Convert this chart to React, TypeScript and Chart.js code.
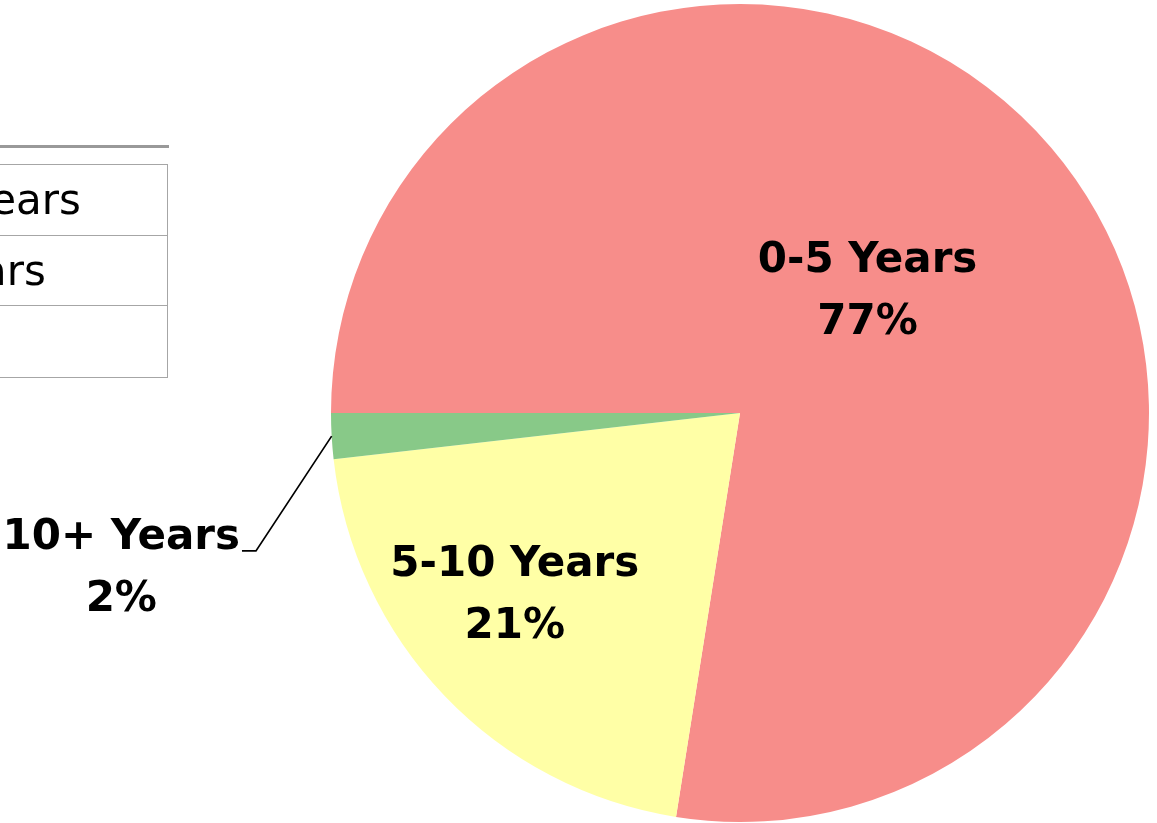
import React, { useEffect, useRef } from "react";
import { Chart, registerables } from "chart.js";

Chart.register(...registerables);

const categories = ["0-5 Years", "5-10 Years", "10+ Years"];
const shares = [77.5, 20.7, 1.8];
const percentLabels = ["77%", "21%", "2%"];
const sliceColors = ["#F78D8A", "#FFFFA6", "#88C988"];
const legendRows = ["0-5 Years", "5-10 Years", "10+ Years"];

// label placement relative to each arc (fraction of radius, angle shift in degrees)
const labelPlacement = [
  { frac: 0.43, shift: -3 },
  { frac: 0.71, shift: 4.6 },
  { frac: 1.56, shift: -10.9 },
];
const LABEL_FONT = "bold 42px 'DejaVu Sans'";

const labelPlugin = {
  id: "sliceLabels",
  afterDatasetsDraw(chart: any) {
    const ctx = chart.ctx;
    const meta = chart.getDatasetMeta(0);
    ctx.save();
    ctx.font = LABEL_FONT;
    ctx.fillStyle = "#000";
    ctx.textAlign = "center";
    ctx.textBaseline = "middle";
    meta.data.forEach((arc: any, i: number) => {
      const { x, y, startAngle, endAngle, outerRadius } = arc.getProps(
        ["x", "y", "startAngle", "endAngle", "outerRadius"],
        true
      );
      const mid = (startAngle + endAngle) / 2;
      const p = labelPlacement[i];
      const a = mid + (p.shift * Math.PI) / 180;
      const lx = x + Math.cos(a) * outerRadius * p.frac;
      const ly = y + Math.sin(a) * outerRadius * p.frac;
      const gap = 31;
      ctx.fillText(categories[i], lx, ly - gap);
      ctx.fillText(percentLabels[i], lx, ly + gap);
      if (p.frac > 1) {
        const w = ctx.measureText(categories[i]).width;
        const sx = x + Math.cos(mid) * outerRadius;
        const sy = y + Math.sin(mid) * outerRadius;
        const ey = ly - gap + 13;
        const ex1 = lx + w / 2 + 2;
        const ex2 = lx + w / 2 + 16;
        ctx.beginPath();
        ctx.strokeStyle = "#000";
        ctx.lineWidth = 1.7;
        ctx.moveTo(sx, sy);
        ctx.lineTo(ex2, ey);
        ctx.lineTo(ex1, ey);
        ctx.stroke();
      }
    });
    ctx.restore();
  },
};

const tablePlugin = {
  id: "legendTable",
  beforeDraw(chart: any) {
    const ctx = chart.ctx;
    ctx.save();
    ctx.fillStyle = "#fff";
    ctx.fillRect(0, 0, chart.width, chart.height);
    // top heavy rule
    ctx.fillStyle = "#999";
    ctx.fillRect(0, 145, 169, 3);
    ctx.strokeStyle = "#a6a6a6";
    ctx.lineWidth = 1;
    const rowsY = [164, 235, 305, 377];
    rowsY.forEach((ry) => {
      ctx.beginPath();
      ctx.moveTo(0, ry + 0.5);
      ctx.lineTo(168, ry + 0.5);
      ctx.stroke();
    });
    ctx.beginPath();
    ctx.moveTo(167.5, 164);
    ctx.lineTo(167.5, 378);
    ctx.stroke();
    ctx.font = "42px 'DejaVu Sans'";
    ctx.fillStyle = "#000";
    ctx.textAlign = "right";
    ctx.textBaseline = "alphabetic";
    const ends = [81, 46, -12];
    legendRows.forEach((t, i) => {
      ctx.fillText(t, ends[i], rowsY[i] + 50);
    });
    ctx.restore();
  },
};

export default function App() {
  const ref = useRef<HTMLCanvasElement>(null);
  useEffect(() => {
    if (!ref.current) return;
    const chart = new Chart(ref.current, {
      type: "pie",
      data: {
        labels: categories,
        datasets: [
          {
            data: shares,
            backgroundColor: sliceColors,
            borderWidth: 0,
          },
        ],
      },
      options: {
        responsive: false,
        animation: false,
        rotation: -90,
        layout: { padding: { left: 331, right: 8, top: 4, bottom: 1 } },
        plugins: {
          legend: { display: false },
          tooltip: { enabled: false },
          title: { display: false },
        },
      },
      plugins: [tablePlugin, labelPlugin],
    });
    return () => chart.destroy();
  }, []);
  return (
    <div style={{ position: "fixed", left: 0, top: 0, width: 1157, height: 823, background: "#fff" }}>
      <canvas ref={ref} width={1157} height={823} style={{ display: "block" }} />
    </div>
  );
}
